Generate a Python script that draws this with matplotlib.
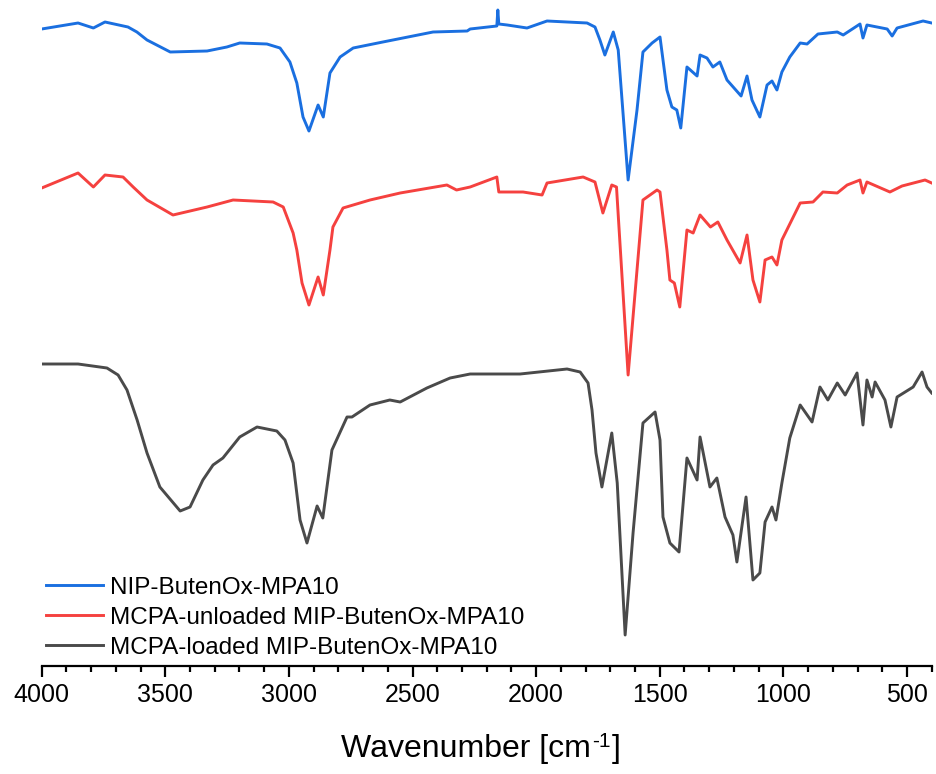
import numpy as np
import matplotlib
matplotlib.use('Agg')
import matplotlib.pyplot as plt

plt.rcParams['font.family'] = ['Liberation Sans', 'DejaVu Sans']

BLUE = '#1a6fe0'
RED = '#f5413f'
GREY = '#4a4a4a'

# NIP-ButenOx-MPA10 (offset transmittance, a.u.)
wn_nip = [4000, 3853, 3791, 3744, 3651, 3615, 3574, 3480, 3331, 3251, 3199, 3089, 3036,
          2996, 2968, 2943, 2919, 2882, 2861, 2834, 2793, 2740, 2620, 2417, 2279, 2267,
          2159, 2155, 2151, 2117, 2037, 1956, 1794, 1762, 1742, 1722, 1688, 1668, 1628,
          1592, 1568, 1531, 1499, 1471, 1451, 1431, 1415, 1390, 1349, 1337, 1309, 1285,
          1257, 1228, 1171, 1147, 1127, 1095, 1066, 1046, 1026, 1006, 974, 932, 904, 860,
          782, 758, 690, 678, 662, 580, 560, 540, 435, 400]
t_nip = [6.37, 6.43, 6.38, 6.44, 6.39, 6.34, 6.26, 6.14, 6.15, 6.19, 6.23, 6.22, 6.18,
         6.04, 5.83, 5.49, 5.35, 5.61, 5.49, 5.93, 6.09, 6.18, 6.24, 6.34, 6.35, 6.37,
         6.40, 6.56, 6.42, 6.41, 6.38, 6.45, 6.43, 6.39, 6.26, 6.11, 6.34, 6.16, 4.86,
         5.56, 6.14, 6.23, 6.29, 5.76, 5.59, 5.56, 5.38, 5.99, 5.90, 6.11, 6.08, 5.99,
         6.04, 5.86, 5.70, 5.90, 5.66, 5.49, 5.81, 5.85, 5.76, 5.94, 6.09, 6.23, 6.22, 6.32,
         6.34, 6.31, 6.42, 6.28, 6.41, 6.37, 6.30, 6.38, 6.45, 6.43]

# MCPA-unloaded MIP-ButenOx-MPA10
wn_unl = [4000, 3853, 3791, 3744, 3671, 3630, 3574, 3469, 3331, 3226, 3064, 3023, 2983,
          2968, 2947, 2919, 2882, 2861, 2834, 2822, 2781, 2672, 2550, 2361, 2322, 2267,
          2159, 2151, 2053, 1976, 1956, 1810, 1762, 1730, 1694, 1675, 1628, 1568, 1511,
          1499, 1471, 1459, 1441, 1419, 1390, 1365, 1337, 1295, 1265, 1228, 1175, 1147,
          1123, 1095, 1074, 1046, 1026, 1006, 932, 880, 840, 782, 742, 690, 678, 662, 569,
          520, 427, 400]
t_unl = [4.78, 4.93, 4.79, 4.91, 4.89, 4.79, 4.66, 4.51, 4.59, 4.66, 4.64, 4.59, 4.33,
         4.16, 3.83, 3.61, 3.89, 3.71, 4.16, 4.39, 4.58, 4.66, 4.73, 4.81, 4.76, 4.79,
         4.89, 4.74, 4.74, 4.71, 4.83, 4.89, 4.84, 4.53, 4.81, 4.79, 2.91, 4.66, 4.76,
         4.74, 4.16, 3.86, 3.83, 3.59, 4.36, 4.33, 4.51, 4.39, 4.44, 4.26, 4.03, 4.31,
         3.86, 3.64, 4.06, 4.09, 4.01, 4.26, 4.63, 4.64, 4.74, 4.73, 4.81, 4.86, 4.73, 4.84, 4.74,
         4.80, 4.86, 4.83]

# MCPA-loaded MIP-ButenOx-MPA10
wn_load = [4000, 3853, 3736, 3691, 3655, 3614, 3574, 3522, 3440, 3400, 3348, 3307, 3267,
           3199, 3129, 3049, 3016, 2983, 2955, 2927, 2886, 2863, 2826, 2765, 2745, 2672,
           2592, 2550, 2442, 2348, 2267, 2065, 1875, 1822, 1790, 1774, 1758, 1734, 1694,
           1672, 1640, 1608, 1568, 1519, 1499, 1487, 1459, 1422, 1390, 1349, 1337, 1297,
           1269, 1236, 1204, 1188, 1151, 1123, 1095, 1074, 1046, 1030, 1006, 974, 932, 884,
           852, 820, 782, 750, 702, 678, 662, 641, 629, 589, 565, 540, 475, 439, 419, 400]
t_load = [3.02, 3.02, 2.98, 2.91, 2.76, 2.46, 2.13, 1.79, 1.55, 1.59, 1.86, 2.01, 2.08,
          2.29, 2.39, 2.35, 2.26, 2.03, 1.46, 1.23, 1.60, 1.48, 2.16, 2.49, 2.49, 2.61,
          2.66, 2.64, 2.78, 2.88, 2.92, 2.92, 2.97, 2.94, 2.83, 2.56, 2.13, 1.79, 2.33,
          1.83, 0.31, 1.33, 2.43, 2.54, 2.26, 1.49, 1.23, 1.14, 2.08, 1.86, 2.29, 1.79,
          1.88, 1.49, 1.31, 1.04, 1.69, 0.86, 0.93, 1.44, 1.59, 1.46, 1.83, 2.28, 2.61, 2.44,
          2.79, 2.66, 2.83, 2.71, 2.93, 2.41, 2.86, 2.69, 2.84, 2.66, 2.39, 2.69, 2.79, 2.94, 2.79, 2.73]

labels = ['NIP-ButenOx-MPA10', 'MCPA-unloaded MIP-ButenOx-MPA10', 'MCPA-loaded MIP-ButenOx-MPA10']

fig = plt.figure(figsize=(9.37, 7.74), dpi=100, facecolor='white')
ax = fig.add_axes([41.7 / 937, 108 / 774, 890 / 937, 666 / 774])

ax.plot(wn_nip, t_nip, color=BLUE, lw=2.1, label=labels[0])
ax.plot(wn_unl, t_unl, color=RED, lw=2.1, label=labels[1])
ax.plot(wn_load, t_load, color=GREY, lw=2.1, label=labels[2])

ax.set_xlim(4000, 400)
ax.set_ylim(0, 6.66)
ax.set_xticks([4000, 3500, 3000, 2500, 2000, 1500, 1000, 500])
ax.set_xticks(np.arange(400, 4001, 100), minor=True)
ax.set_yticks([])
for s in ['top', 'left', 'right']:
    ax.spines[s].set_visible(False)
ax.spines['bottom'].set_linewidth(1.6)
ax.tick_params(axis='x', which='major', direction='out', length=8, width=1.6, labelsize=18, pad=4)
ax.tick_params(axis='x', which='minor', direction='out', length=4.3, width=1.6)

# x label built in pieces so the superscript keeps a plain hyphen
lab = fig.text(341 / 937, 17 / 774, 'Wavenumber [cm', fontsize=23, ha='left', va='baseline')
sup = fig.text(0, 0, '-1', fontsize=15, ha='left', va='baseline')
end = fig.text(0, 0, ']', fontsize=23, ha='left', va='baseline')
fig.canvas.draw()
r = fig.canvas.get_renderer()
bb = lab.get_window_extent(r)
sup.set_position(((bb.x1 + 1) / 937, 27 / 774))
bb2 = sup.get_window_extent(r)
end.set_position(((bb2.x1 + 1) / 937, 17 / 774))

ax.legend(loc='lower left', bbox_to_anchor=(0.0, 0.004), frameon=False, fontsize=17.5,
          handlelength=2.35, handletextpad=0.29, labelspacing=0.33, borderpad=0.18,
          borderaxespad=0.0)

fig.savefig('out.png', dpi=100, facecolor='white')
